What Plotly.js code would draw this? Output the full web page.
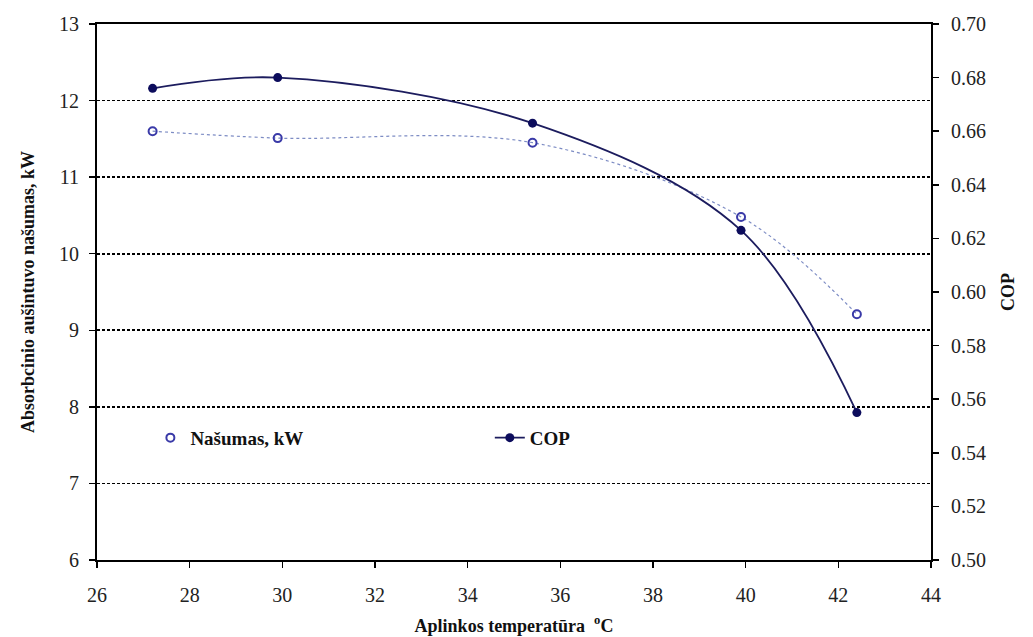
<!DOCTYPE html>
<html>
<head>
<meta charset="utf-8">
<script src="https://cdn.plot.ly/plotly-3.0.1.min.js"></script>
<style>html,body{margin:0;padding:0;background:#fff;}#chart{width:1033px;height:637px;}</style>
</head>
<body>
<div id="chart"></div>
<script>
const temperature = [27.2, 29.9, 35.4, 39.9, 42.4];
const nasumasKW = [11.60, 11.51, 11.45, 10.48, 9.21];
const cop = [0.676, 0.680, 0.663, 0.623, 0.555];

const serif = "'Times New Roman', 'Liberation Serif', 'DejaVu Serif', serif";

const traces = [
  {x: temperature, y: nasumasKW, type: "scatter", mode: "lines",
   line: {shape: "spline", smoothing: 1, color: "#7d8cc4", width: 1.2, dash: "dot"},
   showlegend: false, hoverinfo: "skip"},
  {x: temperature, y: nasumasKW, type: "scatter", mode: "markers", name: "Našumas, kW",
   marker: {symbol: "circle-open", size: 8, color: "#3a3aa8", line: {width: 2, color: "#3a3aa8"}},
   legend: "legend"},
  {x: temperature, y: cop, type: "scatter", mode: "lines+markers", name: "COP", yaxis: "y2",
   line: {shape: "spline", smoothing: 1, color: "#1c1c5e", width: 1.8},
   marker: {symbol: "circle", size: 9, color: "#0c0c5c"},
   legend: "legend2"}
];

const axisCommon = {
  showline: true, linecolor: "#000", linewidth: 2,
  ticks: "outside", ticklen: 6, tickcolor: "#000", tickwidth: 1.5,
  tickfont: {family: serif, size: 20, color: "#222", weight: "normal"},
  zeroline: false
};

const layout = {
  width: 1033, height: 637,
  margin: {l: 97, r: 102, t: 24, b: 77},
  font: {family: serif, size: 20, color: "#222"},
  paper_bgcolor: "#fff", plot_bgcolor: "#fff",
  xaxis: Object.assign({}, axisCommon, {
    range: [26, 44], dtick: 2, tick0: 26, showgrid: false, mirror: true,
    ticklabelstandoff: 10,
    title: {text: "Aplinkos temperatūra  <sup>o</sup>C", standoff: 14,
            font: {family: serif, size: 18, color: "#111", weight: "bold"}}
  }),
  yaxis: Object.assign({}, axisCommon, {
    range: [6, 13], dtick: 1, tick0: 6, ticklabelstandoff: 6,
    showgrid: true, gridcolor: "#000", gridwidth: 1.8, griddash: "3px,2px",
    title: {text: "Absorbcinio aušintuvo našumas, kW", standoff: 20,
            font: {family: serif, size: 18, color: "#111", weight: "bold"}}
  }),
  yaxis2: Object.assign({}, axisCommon, {
    overlaying: "y", side: "right", range: [0.5, 0.7], dtick: 0.02, tick0: 0.5,
    tickformat: ".2f", showgrid: false, ticklabelstandoff: 8,
    title: {text: "COP", standoff: 16,
            font: {family: serif, size: 18, color: "#111", weight: "bold"}}
  }),
  legend: {x: 0.064, y: 0.228, xanchor: "left", yanchor: "middle", bgcolor: "rgba(0,0,0,0)",
           font: {family: serif, size: 19, color: "#111", weight: "bold"}},
  legend2: {x: 0.471, y: 0.228, xanchor: "left", yanchor: "middle", bgcolor: "rgba(0,0,0,0)",
           font: {family: serif, size: 19, color: "#111", weight: "bold"}},
  showlegend: true
};

Plotly.newPlot("chart", traces, layout, {displayModeBar: false, staticPlot: true});
</script>
</body>
</html>
